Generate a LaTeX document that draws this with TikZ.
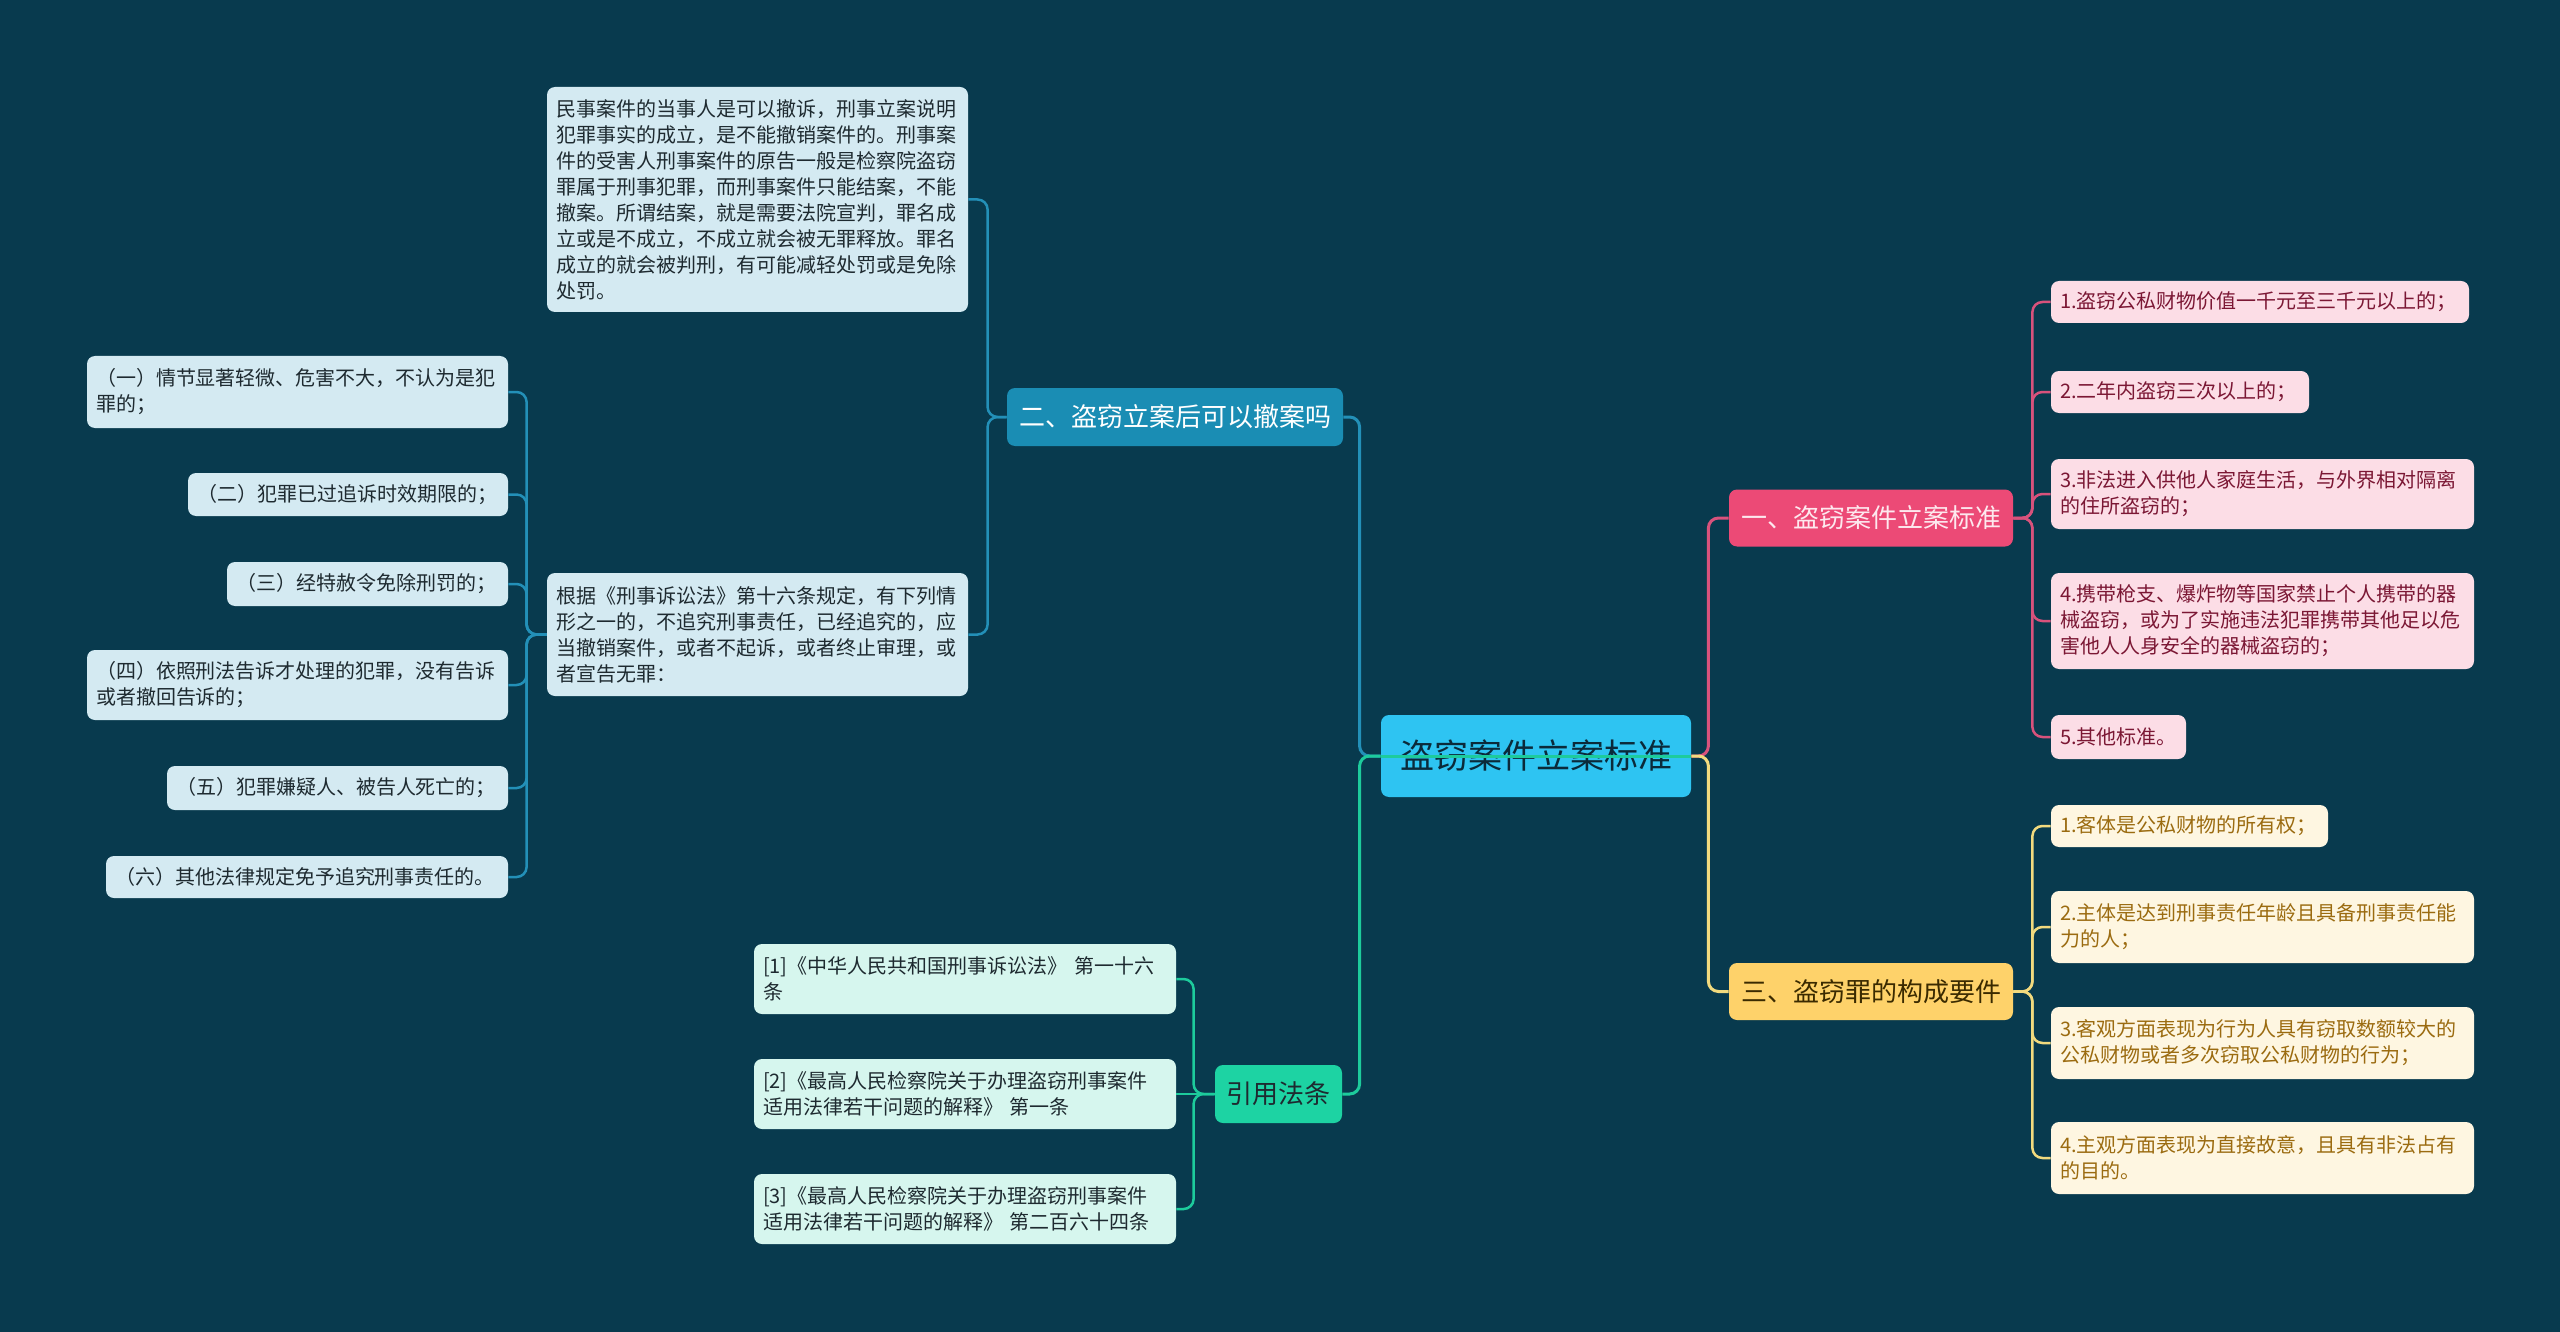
\documentclass[tikz,border=0pt]{standalone}
\usepackage{fontspec}
\setmainfont{Noto Sans CJK SC}
\definecolor{bg}{HTML}{083A4E}
\definecolor{rootfill}{HTML}{2EC4F2}
\definecolor{roottext}{HTML}{0B2A3A}
\definecolor{bluefill}{HTML}{1A8DB4}
\definecolor{blueconn}{HTML}{2390B8}
\definecolor{lightblue}{HTML}{D4EAF2}
\definecolor{greenfill}{HTML}{1DD3A3}
\definecolor{greenconn}{HTML}{1DCB9C}
\definecolor{mint}{HTML}{D6F6EE}
\definecolor{pinkfill}{HTML}{EC4A76}
\definecolor{pinktext}{HTML}{FDE8EE}
\definecolor{pinkconn}{HTML}{D8527C}
\definecolor{pinklight}{HTML}{FCDDE6}
\definecolor{pinkdark}{HTML}{7B1734}
\definecolor{yellowfill}{HTML}{FED26A}
\definecolor{yellowtext}{HTML}{3A2A00}
\definecolor{yellowconn}{HTML}{F2DA7E}
\definecolor{yellowlight}{HTML}{FEF6E1}
\definecolor{yellowdark}{HTML}{9B6B10}
\definecolor{darktext}{HTML}{1E2A30}
\begin{document}
\begin{tikzpicture}[x=0.5pt,y=-0.5pt,
  bx/.style={rounded corners=4pt, inner xsep=4.5pt, inner ysep=0pt, align=left,
    font=\fontsize{10pt}{13pt}\selectfont, anchor=center},
  mainbox/.style={rounded corners=4pt, inner sep=0pt, align=center, anchor=center,
    font=\fontsize{13pt}{15pt}\selectfont},
  lbox/.style={bx, fill=lightblue, text=darktext},
  rbox/.style={bx, fill=mint, text=darktext},
  pbox/.style={bx, fill=pinklight, text=pinkdark},
  ybox/.style={bx, fill=yellowlight, text=yellowdark},
  conn/.style={line width=1.5pt, rounded corners=5pt},
  subconn/.style={line width=1.25pt, rounded corners=5pt}]
\fill[bg] (0,0) rectangle (2560,1332);
\useasboundingbox (0,0) rectangle (2560,1332);

% root
\node[mainbox, fill=rootfill, text=roottext, minimum width=155pt, minimum height=41pt,
  font=\fontsize{17pt}{19pt}\selectfont] (root) at (1536,756) {盗窃案件立案标准};

% main branches
\node[mainbox, fill=bluefill, text=white, minimum width=168pt, minimum height=29pt] (b2) at (1175,417) {二、盗窃立案后可以撤案吗};
\node[mainbox, fill=greenfill, text=darktext, minimum width=63.5pt, minimum height=29pt] (yy) at (1278.5,1094) {引用法条};
\node[mainbox, fill=pinkfill, text=pinktext, minimum width=142pt, minimum height=28.5pt] (b1) at (1871,518) {一、盗窃案件立案标准};
\node[mainbox, fill=yellowfill, text=yellowtext, minimum width=142pt, minimum height=28.5pt] (b3) at (1871,991.5) {三、盗窃罪的构成要件};

% left branch texts
\node[lbox, text width=201.5pt, minimum height=112.5pt] (t1) at (757.5,199.5) {民事案件的当事人是可以撤诉，刑事立案说明\\犯罪事实的成立，是不能撤销案件的。刑事案\\件的受害人刑事案件的原告一般是检察院盗窃\\罪属于刑事犯罪，而刑事案件只能结案，不能\\撤案。所谓结案，就是需要法院宣判，罪名成\\立或是不成立，不成立就会被无罪释放。罪名\\成立的就会被判刑，有可能减轻处罚或是免除\\处罚。};
\node[lbox, text width=201.5pt, minimum height=61.5pt] (t2) at (757.5,634.5) {根据《刑事诉讼法》第十六条规定，有下列情\\形之一的，不追究刑事责任，已经追究的，应\\当撤销案件，或者不起诉，或者终止审理，或\\者宣告无罪：};

\node[lbox, text width=201.5pt, minimum height=36pt] (L1) at (297.5,392) {（一）情节显著轻微、危害不大，不认为是犯\\罪的；};
\node[lbox, text width=151pt, minimum height=21.5pt] (L2) at (348,494.5) {（二）犯罪已过追诉时效期限的；};
\node[lbox, text width=131.5pt, minimum height=22pt] (L3) at (367.5,584) {（三）经特赦令免除刑罚的；};
\node[lbox, text width=201.5pt, minimum height=35pt] (L4) at (297.5,685) {（四）依照刑法告诉才处理的犯罪，没有告诉\\或者撤回告诉的；};
\node[lbox, text width=161.5pt, minimum height=22pt] (L5) at (337.5,788) {（五）犯罪嫌疑人、被告人死亡的；};
\node[lbox, text width=192pt, minimum height=21pt] (L6) at (307,877) {（六）其他法律规定免予追究刑事责任的。};

% references
\node[rbox, text width=202pt, minimum height=35pt] (R1) at (965,979) {[1]《中华人民共和国刑事诉讼法》 第一十六\\条};
\node[rbox, text width=202pt, minimum height=35pt] (R2) at (965,1094) {[2]《最高人民检察院关于办理盗窃刑事案件\\适用法律若干问题的解释》 第一条};
\node[rbox, text width=202pt, minimum height=35pt] (R3) at (965,1209) {[3]《最高人民检察院关于办理盗窃刑事案件\\适用法律若干问题的解释》 第二百六十四条};

% pink items
\node[pbox, text width=200pt, minimum height=21pt] (P1) at (2260,302) {1.盗窃公私财物价值一千元至三千元以上的；};
\node[pbox, text width=120pt, minimum height=21pt] (P2) at (2180,392) {2.二年内盗窃三次以上的；};
\node[pbox, text width=202.5pt, minimum height=35pt] (P3) at (2262.5,494) {3.非法进入供他人家庭生活，与外界相对隔离\\的住所盗窃的；};
\node[pbox, text width=202.5pt, minimum height=48pt] (P4) at (2262.5,621) {4.携带枪支、爆炸物等国家禁止个人携带的器\\械盗窃，或为了实施违法犯罪携带其他足以危\\害他人人身安全的器械盗窃的；};
\node[pbox, text width=58.5pt, minimum height=22pt] (P5) at (2118.5,737) {5.其他标准。};

% yellow items
\node[ybox, text width=129.5pt, minimum height=21pt] (Y1) at (2189.5,826) {1.客体是公私财物的所有权；};
\node[ybox, text width=202.5pt, minimum height=36pt] (Y2) at (2262.5,927) {2.主体是达到刑事责任年龄且具备刑事责任能\\力的人；};
\node[ybox, text width=202.5pt, minimum height=36pt] (Y3) at (2262.5,1043) {3.客观方面表现为行为人具有窃取数额较大的\\公私财物或者多次窃取公私财物的行为；};
\node[ybox, text width=202.5pt, minimum height=36pt] (Y4) at (2262.5,1158) {4.主观方面表现为直接故意，且具有非法占有\\的目的。};

% connectors from root
\draw[conn, blueconn] (root.west) -- ++(-21,0) |- (b2.east);
\draw[conn, greenconn] (root.west) -- ++(-21,0) |- (yy.east);
\draw[conn, pinkconn] (root.east) -- ++(17,0) |- (b1.west);
\draw[conn, yellowconn] (root.east) -- ++(17,0) |- (b3.west);
\draw[line width=1.5pt, greenconn] (root.west) -- (root.east);

% second level
\foreach \c in {t1,t2} \draw[subconn, blueconn] (b2.west) -- ++(-19,0) |- (\c.east);
\foreach \c in {L1,L2,L3,L4,L5,L6} \draw[subconn, blueconn] (t2.west) -- ++(-20,0) |- (\c.east);
\foreach \c in {R1,R3} \draw[subconn, greenconn] (yy.west) -- ++(-21,0) |- (\c.east);
\draw[subconn, greenconn] (yy.west) -- (R2.east);
\foreach \c in {P1,P2,P3,P4,P5} \draw[subconn, pinkconn] (b1.east) -- ++(19,0) |- (\c.west);
\foreach \c in {Y1,Y2,Y3,Y4} \draw[subconn, yellowconn] (b3.east) -- ++(19,0) |- (\c.west);
\end{tikzpicture}
\end{document}
